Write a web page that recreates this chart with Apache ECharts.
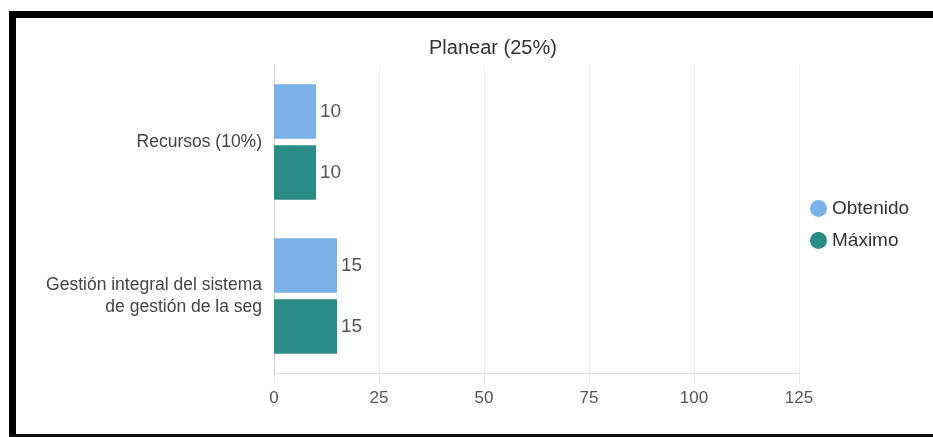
<!DOCTYPE html>
<html>
<head>
<meta charset="utf-8">
<script src="https://cdn.jsdelivr.net/npm/echarts@6/dist/echarts.min.js"></script>
<style>
html,body{margin:0;padding:0;background:#fff;}
#chart{width:933px;height:437px;}
</style>
</head>
<body>
<div id="chart"></div>
<script>
const categories = ['Recursos (10%)', 'Gestión integral del sistema\nde gestión de la seg'];
const obtenido = [10, 15];
const maximo = [10, 15];
const xTicks = { min: 0, max: 125, interval: 25 };
const titleText = 'Planear (25%)';
const seriesNames = ['Obtenido', 'Máximo'];

const chart = echarts.init(document.getElementById('chart'), null, { renderer: 'canvas' });
const font = 'Liberation Sans, Arial, sans-serif';
chart.setOption({
  animation: false,
  textStyle: { fontFamily: font },
  title: {
    text: titleText, left: 424, top: 33,
    textStyle: { fontSize: 20, fontWeight: 'normal', color: '#333', fontFamily: font }
  },
  legend: {
    orient: 'vertical', left: 805, top: 194,
    icon: 'circle', itemWidth: 17, itemHeight: 17, itemGap: 13,
    textStyle: { fontSize: 19, color: '#333', fontFamily: font },
    data: seriesNames
  },
  grid: { left: 274, right: 134, top: 65, bottom: 64, containLabel: false },
  xAxis: {
    type: 'value', min: xTicks.min, max: xTicks.max, interval: xTicks.interval,
    axisLine: { show: true, lineStyle: { color: '#e0e0e0' } },
    axisTick: { show: true, length: 11, lineStyle: { color: '#e6e6e6' } },
    splitLine: { show: true, lineStyle: { color: '#ececec' } },
    axisLabel: { fontSize: 17, color: '#555', margin: 17, fontFamily: font }
  },
  yAxis: {
    type: 'category', data: categories, inverse: true,
    axisLine: { show: true, lineStyle: { color: '#cfcfcf' } },
    axisTick: { show: false },
    axisLabel: { fontSize: 17.5, color: '#444', margin: 12, lineHeight: 22, align: 'right', fontFamily: font }
  },
  series: [
    {
      name: seriesNames[0], type: 'bar', data: obtenido,
      barCategoryGap: '25%', barGap: '12%',
      itemStyle: { color: '#79b1e8' },
      label: { show: true, position: 'right', distance: 4, fontSize: 19, color: '#555', fontFamily: font }
    },
    {
      name: seriesNames[1], type: 'bar', data: maximo,
      barCategoryGap: '25%', barGap: '12%',
      itemStyle: { color: '#2b8b85' },
      label: { show: true, position: 'right', distance: 4, fontSize: 19, color: '#555', fontFamily: font }
    }
  ],
  graphic: [
    { type: 'rect', shape: { x: 9, y: 11, width: 924, height: 7 }, style: { fill: '#000' } },
    { type: 'rect', shape: { x: 9, y: 11, width: 7, height: 426 }, style: { fill: '#000' } },
    { type: 'rect', shape: { x: 9, y: 434, width: 924, height: 3 }, style: { fill: '#111' } }
  ]
});
</script>
</body>
</html>
